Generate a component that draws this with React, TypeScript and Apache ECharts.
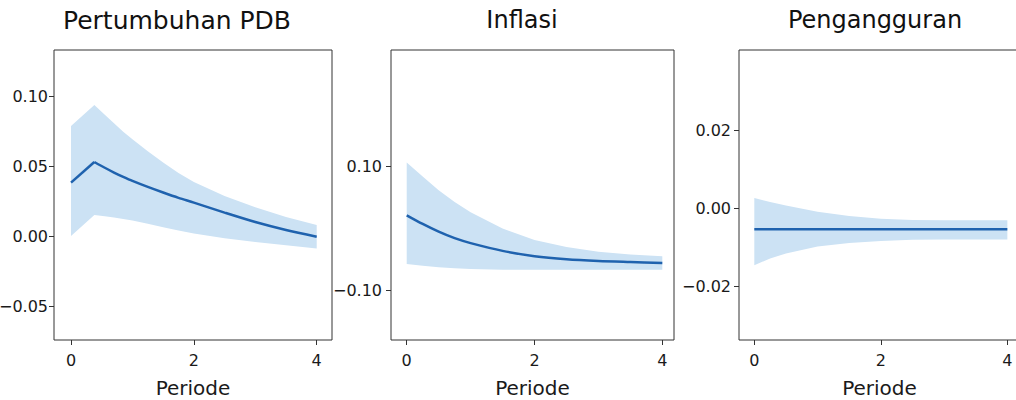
import React, { useEffect, useRef } from "react";
import * as echarts from "echarts";

// ---- Data ----
const titles = ["Pertumbuhan PDB", "Inflasi", "Pengangguran"];
const xLabel = "Periode";
const xTicks = [0, 2, 4];

const gdpX = [0, 0.38, 0.55, 0.7, 0.85, 1, 1.25, 1.5, 1.75, 2, 2.5, 3, 3.5, 4];
const gdpMid = [0.0386, 0.0533, 0.0492, 0.0458, 0.0427, 0.0398, 0.0355, 0.0315, 0.0277, 0.0243, 0.0172, 0.0105, 0.0048, 0.0];
const gdpUpper = [0.079, 0.094, 0.087, 0.081, 0.075, 0.0695, 0.061, 0.053, 0.0455, 0.039, 0.029, 0.021, 0.014, 0.0083];
const gdpLower = [0.0004, 0.0154, 0.0145, 0.0136, 0.0126, 0.0115, 0.0093, 0.0068, 0.0044, 0.0022, -0.0012, -0.0039, -0.0062, -0.0084];
const gdpPeakIndex = 1;
const gdpYTicks = [-0.05, 0.0, 0.05, 0.1];

const infX = [0, 0.25, 0.5, 0.75, 1, 1.5, 2, 2.5, 3, 3.5, 4];
const infMid = [0.0215, 0.0075, -0.005, -0.0155, -0.0235, -0.036, -0.0445, -0.0495, -0.0523, -0.054, -0.0555];
const infUpper = [0.107, 0.084, 0.062, 0.043, 0.0265, 0.0, -0.0185, -0.0298, -0.0372, -0.0418, -0.0447];
const infLower = [-0.0571, -0.060, -0.0626, -0.064, -0.0652, -0.0663, -0.0663, -0.0663, -0.0663, -0.0663, -0.0663];
const infYTicks = [-0.1, 0.1];

const unX = [0, 0.25, 0.5, 1, 1.5, 2, 2.5, 3, 3.5, 4];
const unMid = [-0.0053, -0.0053, -0.0053, -0.0053, -0.0053, -0.0053, -0.0053, -0.0053, -0.0053, -0.0053];
const unUpper = [0.0027, 0.0017, 0.0008, -0.0008, -0.0019, -0.0026, -0.0029, -0.003, -0.003, -0.003];
const unLower = [-0.0145, -0.0128, -0.0115, -0.0097, -0.0088, -0.0083, -0.008, -0.0079, -0.0079, -0.0079];
const unYTicks = [-0.02, 0.0, 0.02];

const panels = [
  { x: gdpX, mid: gdpMid, up: gdpUpper, lo: gdpLower, yTicks: gdpYTicks, peak: gdpPeakIndex },
  { x: infX, mid: infMid, up: infUpper, lo: infLower, yTicks: infYTicks, peak: 0 },
  { x: unX, mid: unMid, up: unUpper, lo: unLower, yTicks: unYTicks, peak: 0 },
];

// ---- Layout / style ----
const grids = [
  { left: 54, top: 50, width: 278, height: 290 },
  { left: 391, top: 50, width: 283, height: 290 },
  { left: 739, top: 50, width: 281, height: 290 },
];
const xRanges = [
  [-0.277, 4.249],
  [-0.246, 4.183],
  [-0.242, 4.2],
];
const yRanges = [
  [-0.0738, 0.1333],
  [-0.18, 0.2886],
  [-0.0337, 0.0407],
];
const yLabelMargins = [6, 9, 8];
const titleCenters = [177, 522, 875];
const titleSizes = [25, 24, 24];

const FONT = "DejaVu Sans";
const LINE = "#1f62ae";
const BAND = "#cce2f4";
const AXIS = "#333333";

const fmt = (v: number) => {
  const s = Math.abs(v).toFixed(2);
  return v < -1e-9 ? "\u2212" + s : s;
};

export default function App() {
  const ref = useRef<HTMLDivElement>(null);
  useEffect(() => {
    document.body.style.margin = "0";
    if (!ref.current) return;
    const chart = echarts.init(ref.current, undefined, { renderer: "svg" });

    const series: any[] = [];
    panels.forEach((p, i) => {
      series.push({
        type: "custom",
        xAxisIndex: i,
        yAxisIndex: i,
        data: [[p.x[0], p.mid[0]]],
        silent: true,
        z: 1,
        renderItem: (params: any, api: any) => {
          if (params.dataIndex !== 0) return null;
          const pts: number[][] = [];
          for (let k = 0; k < p.x.length; k++) pts.push(api.coord([p.x[k], p.up[k]]));
          for (let k = p.x.length - 1; k >= 0; k--) pts.push(api.coord([p.x[k], p.lo[k]]));
          return { type: "polygon", shape: { points: pts }, style: { fill: BAND } };
        },
      });
      const pts = p.x.map((x, k) => [x, p.mid[k]]);
      if (p.peak > 0) {
        series.push({
          type: "line",
          xAxisIndex: i,
          yAxisIndex: i,
          data: pts.slice(0, p.peak + 1),
          symbol: "none",
          z: 3,
          lineStyle: { color: LINE, width: 2.5, join: "round" },
        });
      }
      series.push({
        type: "line",
        xAxisIndex: i,
        yAxisIndex: i,
        data: pts.slice(p.peak),
        symbol: "none",
        smooth: 0.3,
        z: 3,
        lineStyle: { color: LINE, width: 2.5 },
      });
    });

    chart.setOption({
      animation: false,
      backgroundColor: "#ffffff",
      textStyle: { fontFamily: FONT },
      grid: grids.map((g) => ({
        ...g,
        show: true,
        borderColor: AXIS,
        borderWidth: 1,
        backgroundColor: "transparent",
        containLabel: false,
        outerBoundsMode: "none",
      })),
      xAxis: panels.map((p, i) => ({
        type: "value",
        gridIndex: i,
        min: xRanges[i][0],
        max: xRanges[i][1],
        name: xLabel,
        nameLocation: "middle",
        nameGap: 38,
        nameTextStyle: { fontSize: 20, color: "#1a1a1a", fontFamily: FONT },
        axisLine: { show: false, onZero: false },
        splitLine: { show: false },
        axisTick: { show: true, length: 5, customValues: xTicks, lineStyle: { color: AXIS } },
        axisLabel: {
          customValues: xTicks,
          fontSize: 16,
          color: "#1a1a1a",
          fontFamily: FONT,
          margin: 12,
          formatter: (v: number) => String(Math.round(v)),
        },
      })),
      yAxis: panels.map((p, i) => ({
        type: "value",
        gridIndex: i,
        min: yRanges[i][0],
        max: yRanges[i][1],
        axisLine: { show: false, onZero: false },
        splitLine: { show: false },
        axisTick: { show: true, length: 5, customValues: p.yTicks, lineStyle: { color: AXIS } },
        axisLabel: {
          customValues: p.yTicks,
          fontSize: 16,
          color: "#1a1a1a",
          fontFamily: FONT,
          margin: yLabelMargins[i],
          formatter: (v: number) => fmt(v),
        },
      })),
      graphic: titles.map((t, i) => ({
        type: "text",
        x: titleCenters[i],
        y: 20,
        style: {
          text: t,
          fill: "#111111",
          font: `${titleSizes[i]}px "${FONT}"`,
          align: "center",
          verticalAlign: "middle",
        },
      })),
      series,
    });
    return () => chart.dispose();
  }, []);
  return <div ref={ref} style={{ width: 1016, height: 400 }} />;
}
